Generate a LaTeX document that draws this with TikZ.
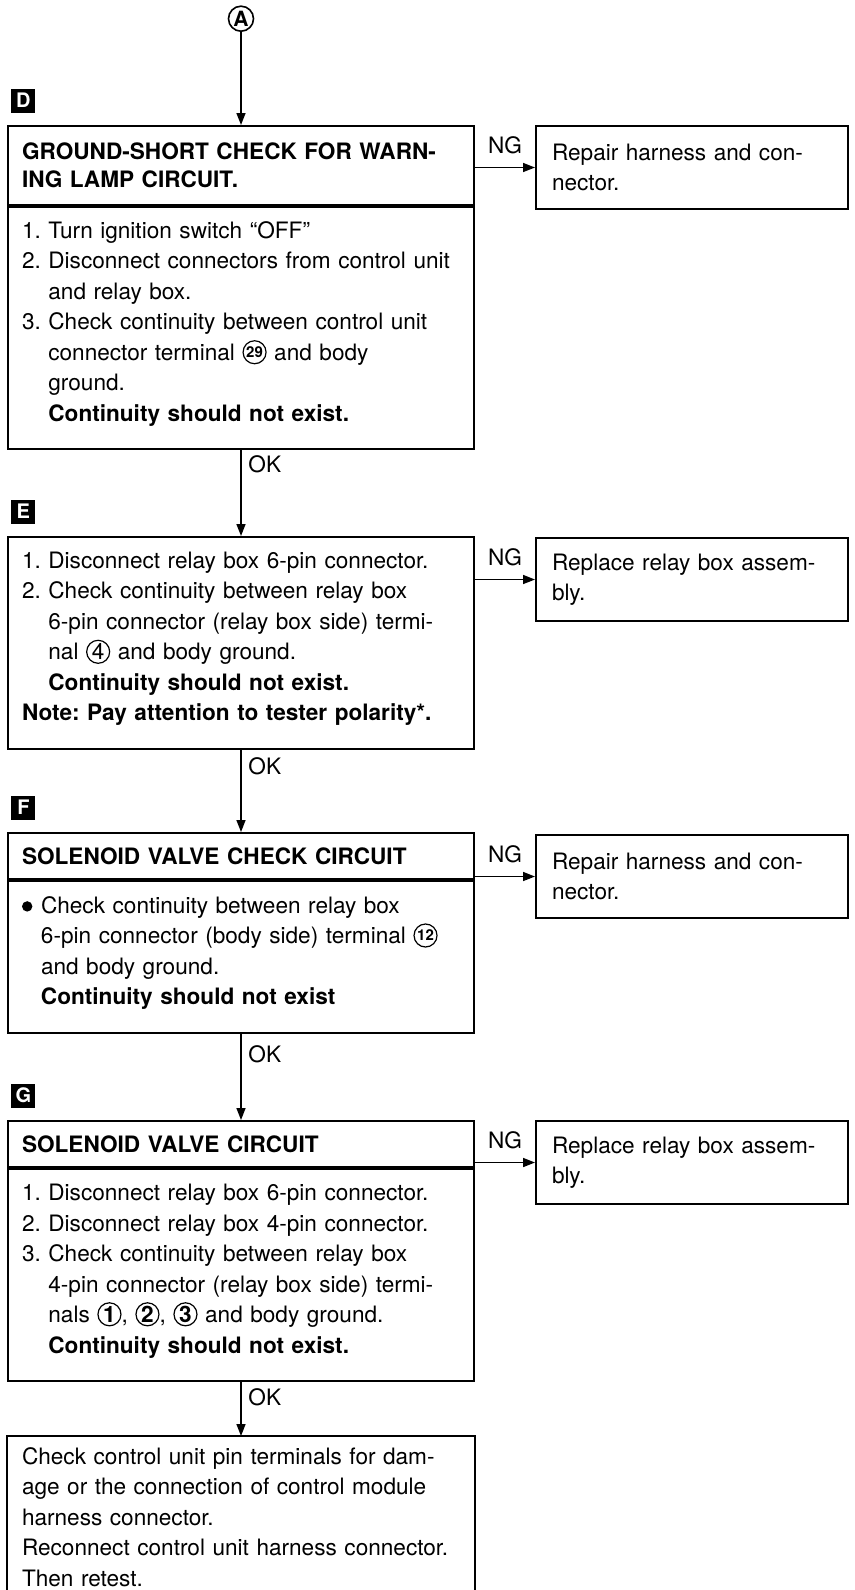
\documentclass[tikz,border=0pt]{standalone}
\usepackage{fontspec}
\setmainfont{TeX Gyre Heros}
\usetikzlibrary{positioning, arrows.meta}
\newcommand{\bodyfont}{\fontsize{11.3}{15.25}\selectfont\frenchspacing}
\newcommand{\twodig}{\fontsize{7.5}{7.5}\selectfont\bfseries}
\newcommand{\circnum}[2][]{\tikz[baseline={([yshift=-4.1pt]num.center)}]
  \node (num) [circle, draw, line width=0.6pt, inner sep=0pt,
    minimum size=11.5pt, font=#1] {#2};}
\newcommand{\bul}{\makebox[9.5pt][l]{\tikz[baseline=-3.4pt]\fill (0,0) circle (2.6pt);}}
% extra depth under the last line, so the text sits a little high
\newcommand{\lastline}{\rule[-6.5pt]{0pt}{1pt}}
\tikzset{
  headbox/.style={rectangle, draw, line width=1pt, minimum width=233pt,
    text width=219pt, inner xsep=7pt, align=left,
    font=\fontsize{11.3}{14}\selectfont\frenchspacing\bfseries},
  bodybox/.style={rectangle, draw, line width=1pt, minimum width=233pt,
    text width=219pt, inner xsep=7pt, align=left, font=\bodyfont},
  sidebox/.style={rectangle, draw, line width=1pt, minimum width=156pt,
    minimum height=41.5pt, text width=140pt, inner xsep=8pt, align=left,
    font=\bodyfont},
  tag/.style={rectangle, fill=black, text=white, minimum size=12pt,
    inner sep=0pt, font=\fontsize{10}{10}\selectfont\bfseries},
  flowlabel/.style={font=\bodyfont},
  arrow/.style={-{Triangle[length=6pt,width=4.5pt]}, line width=0.8pt}
}
\begin{document}
\begin{tikzpicture}[x=0.5pt, y=-0.5pt]
\fill[white] (0,0) rectangle (855,1590);
\useasboundingbox (0,0) rectangle (855,1590);

% D
\node (dhead) [headbox, minimum height=39.5pt, anchor=north west] at (7,125)
  {GROUND-SHORT CHECK FOR WARN-\\ING LAMP CIRCUIT.};
\node (dbody) [bodybox, minimum height=121pt, below=0pt of dhead]
  {1. Turn ignition switch “OFF”\\
   2. Disconnect connectors from control unit\\
   \phantom{2.\ }and relay box.\\
   3. Check continuity between control unit\\
   \phantom{3.\ }connector terminal \circnum[\twodig]{29} and body\\
   \phantom{3.\ }ground.\\
   \phantom{3.\ }\textbf{Continuity should not exist.}\lastline};
\node (acirc) [circle, draw, line width=0.8pt, minimum size=12.5pt, inner sep=0pt,
  font=\fontsize{10.5}{10.5}\selectfont\bfseries, above=46.5pt of dhead] {A};
\node (tagD) [tag, above right=6pt and 2pt of dhead.north west] {D};
\node (fixD) [sidebox, right=30pt of dhead.north east, anchor=north west]
  {Repair harness and con-\\nector.};

% E
\node (ebox) [bodybox, minimum height=106pt, below=43pt of dbody]
  {1. Disconnect relay box 6-pin connector.\\
   2. Check continuity between relay box\\
   \phantom{2.\ }6-pin connector (relay box side) termi-\\
   \phantom{2.\ }nal \circnum{4} and body ground.\\
   \phantom{2.\ }\textbf{Continuity should not exist.}\\
   \textbf{Note: Pay attention to tester polarity*.}\lastline};
\node (tagE) [tag, above right=6pt and 2pt of ebox.north west] {E};
\node (fixE) [sidebox, right=30pt of ebox.north east, anchor=north west,
  yshift=-0.5pt] {Replace relay box assem-\\bly.};

% F
\node (fhead) [headbox, minimum height=23pt, below=41pt of ebox]
  {SOLENOID VALVE CHECK CIRCUIT};
\node (fbody) [bodybox, minimum height=76pt, below=0pt of fhead]
  {\bul Check continuity between relay box\\
   \hspace*{9.5pt}6-pin connector (body side) terminal \circnum[\twodig]{12}\\
   \hspace*{9.5pt}and body ground.\\
   \hspace*{9.5pt}\textbf{Continuity should not exist}\lastline};
\node (tagF) [tag, above right=6pt and 2pt of fhead.north west] {F};
\node (fixF) [sidebox, right=30pt of fhead.north east, anchor=north west,
  yshift=-1pt] {Repair harness and con-\\nector.};

% G
\node (ghead) [headbox, minimum height=23pt, below=43pt of fbody]
  {SOLENOID VALVE CIRCUIT};
\node (gbody) [bodybox, minimum height=106pt, below=0pt of ghead]
  {1. Disconnect relay box 6-pin connector.\\
   2. Disconnect relay box 4-pin connector.\\
   3. Check continuity between relay box\\
   \phantom{3.\ }4-pin connector (relay box side) termi-\\
   \phantom{3.\ }nals \circnum[\bfseries]{1}, \circnum[\bfseries]{2},
     \circnum[\bfseries]{3} and body ground.\\
   \phantom{3.\ }\textbf{Continuity should not exist.}\lastline};
\node (tagG) [tag, above right=6pt and 2pt of ghead.north west] {G};
\node (fixG) [sidebox, right=30pt of ghead.north east, anchor=north west]
  {Replace relay box assem-\\bly.};

% last step, runs off the page
\node (retest) [bodybox, draw=none, minimum height=80pt, below=27pt of gbody]
  {Check control unit pin terminals for dam-\\
   age or the connection of control module\\
   harness connector.\\
   Reconnect control unit harness connector.\\
   Then retest.};
\draw[line width=1pt] ([yshift=-20pt]retest.south west) -- (retest.north west)
  -- (retest.north east) -- ([yshift=-20pt]retest.south east);

% heavier rule under the titles
\draw[line width=1.6pt] (dhead.south west) -- (dhead.south east);
\draw[line width=1.6pt] (fhead.south west) -- (fhead.south east);
\draw[line width=1.6pt] (ghead.south west) -- (ghead.south east);

\draw[arrow] (acirc) -- (dhead);
\draw[arrow] (dbody) -- node[flowlabel, right, pos=0.16] {OK} (ebox);
\draw[arrow] (ebox)  -- node[flowlabel, right, pos=0.2] {OK} (fhead);
\draw[arrow] (fbody) -- node[flowlabel, right, pos=0.24] {OK} (ghead);
\draw[arrow] (gbody) -- node[flowlabel, right, pos=0.28] {OK} (retest);

\draw[arrow] (fixD.west -| dhead.east) -- node[flowlabel, above=3pt] {NG} (fixD.west);
\draw[arrow] (fixE.west -| ebox.east)  -- node[flowlabel, above=3pt] {NG} (fixE.west);
\draw[arrow] (fixF.west -| fhead.east) -- node[flowlabel, above=3pt] {NG} (fixF.west);
\draw[arrow] (fixG.west -| ghead.east) -- node[flowlabel, above=3pt] {NG} (fixG.west);
\end{tikzpicture}
\end{document}
